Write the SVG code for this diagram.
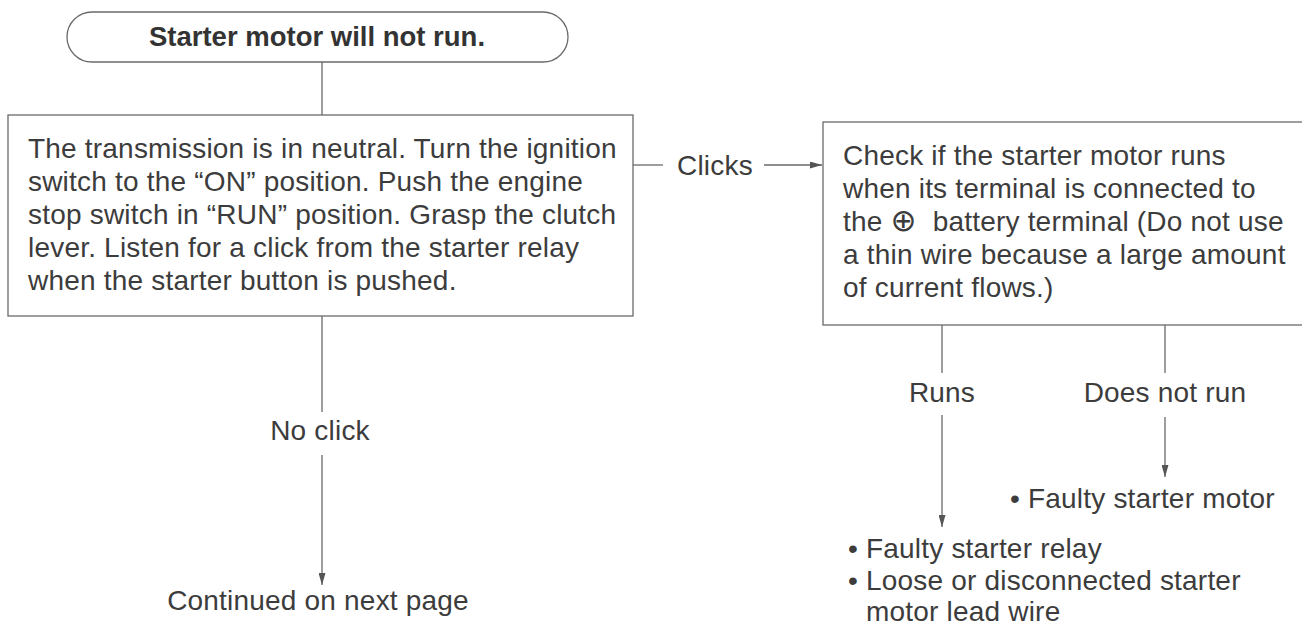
<svg xmlns="http://www.w3.org/2000/svg" width="1302" height="629" viewBox="0 0 1302 629">
  <defs>
    <style>
      .t { font-family: "Liberation Sans", "DejaVu Sans", sans-serif; font-size: 28px; fill: #3c3c3c; letter-spacing: 0.2px; }
      .tb { font-family: "Liberation Sans", "DejaVu Sans", sans-serif; font-size: 27.5px; font-weight: bold; fill: #333; }
      .c { text-anchor: middle; }
      .box { fill: #fff; stroke: #6a6a6a; stroke-width: 1.3; }
      .ln { fill: none; stroke: #6a6a6a; stroke-width: 1.3; }
    </style>
    <marker id="arr" viewBox="0 0 12 7" refX="12" refY="3.5" markerWidth="12" markerHeight="7" markerUnits="userSpaceOnUse" orient="auto">
      <path d="M0,0 L12,3.5 L0,7 Z" fill="#555"/>
    </marker>
  </defs>
  <rect width="1302" height="629" fill="#fff"/>

  <g id="connectors">
    <line class="ln" x1="322" y1="62" x2="322" y2="115"/>
    <line class="ln" x1="633" y1="165" x2="663" y2="165"/>
    <line class="ln" x1="764" y1="165" x2="822" y2="165" marker-end="url(#arr)"/>
    <line class="ln" x1="322" y1="316" x2="322" y2="412"/>
    <line class="ln" x1="322" y1="455" x2="322" y2="585" marker-end="url(#arr)"/>
    <line class="ln" x1="942" y1="325" x2="942" y2="373"/>
    <line class="ln" x1="942" y1="415" x2="942" y2="527" marker-end="url(#arr)"/>
    <line class="ln" x1="1165" y1="325" x2="1165" y2="373"/>
    <line class="ln" x1="1165" y1="417" x2="1165" y2="477" marker-end="url(#arr)"/>
    <text class="t" x="677" y="175">Clicks</text>
    <text class="t c" x="320" y="440">No click</text>
    <text class="t c" x="942" y="402">Runs</text>
    <text class="t c" x="1165" y="402">Does not run</text>
  </g>

  <g id="start">
    <rect class="box" x="67" y="12" width="501" height="50" rx="25" ry="25"/>
    <text class="tb c" x="317" y="46">Starter motor will not run.</text>
  </g>

  <g id="check-click">
    <rect class="box" x="8" y="115" width="625" height="201"/>
    <text class="t" x="28" y="158">The transmission is in neutral. Turn the ignition</text>
    <text class="t" x="28" y="191">switch to the “ON” position. Push the engine</text>
    <text class="t" x="28" y="224">stop switch in “RUN” position. Grasp the clutch</text>
    <text class="t" x="28" y="257">lever. Listen for a click from the starter relay</text>
    <text class="t" x="28" y="290">when the starter button is pushed.</text>
  </g>

  <g id="check-motor">
    <rect class="box" x="823" y="122" width="500" height="203"/>
    <text class="t" x="843" y="165">Check if the starter motor runs</text>
    <text class="t" x="843" y="198">when its terminal is connected to</text>
    <text class="t" x="843" y="231" xml:space="preserve">the <tspan font-size="31">⊕</tspan>  battery terminal (Do not use</text>
    <text class="t" x="843" y="264">a thin wire because a large amount</text>
    <text class="t" x="843" y="297">of current flows.)</text>
  </g>

  <g id="next-page">
    <text class="t c" x="318" y="610">Continued on next page</text>
  </g>

  <g id="faulty-motor">
    <text class="t" x="1010" y="508">• Faulty starter motor</text>
  </g>

  <g id="faulty-relay">
    <text class="t" x="848" y="558">• Faulty starter relay</text>
    <text class="t" x="848" y="590">• Loose or disconnected starter</text>
    <text class="t" x="866" y="621">motor lead wire</text>
  </g>
</svg>
